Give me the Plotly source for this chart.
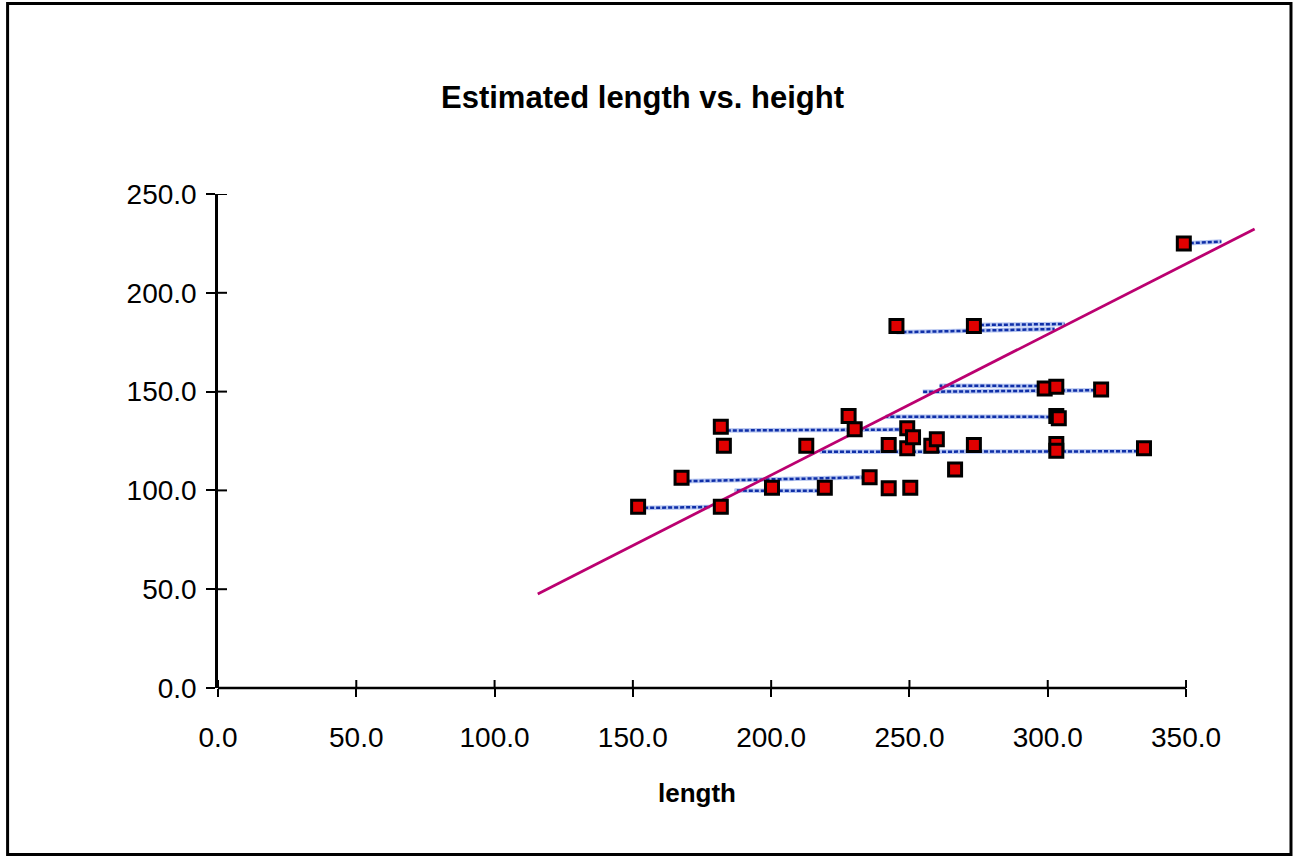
import plotly.graph_objects as go

# ---- data ----
length = [151.9, 181.8, 167.6, 181.8, 182.9, 200.3, 219.4, 212.7, 228.0, 230.2,
          235.6, 242.5, 242.5, 245.3, 273.3, 249.2, 249.2, 251.3, 257.9, 259.9,
          273.3, 266.5, 250.3, 298.9, 303.1, 319.3, 303.1, 304.0, 303.1, 303.1,
          334.8, 349.2]
height = [91.7, 91.7, 106.4, 132.2, 122.6, 101.4, 101.4, 122.6, 137.7, 130.9,
          106.6, 101.1, 123.0, 183.2, 183.2, 131.4, 121.3, 126.9, 122.6, 125.9,
          123.0, 110.6, 101.4, 151.6, 152.4, 151.1, 137.7, 136.5, 123.5, 120.1,
          121.3, 225.0]

# regression line end points
reg_length = [115.6, 374.8]
reg_height = [47.6, 232.3]

# dashed segments: observed point -> estimated length
seg_x0 = [151.9, 219.4, 167.6, 181.8, 303.1, 334.8, 303.1, 319.3, 273.3, 245.3, 349.2]
seg_y0 = [91.1, 99.8, 104.6, 130.3, 137.2, 119.8, 152.8, 150.7, 183.7, 180.0, 225.0]
seg_x1 = [177.8, 186.8, 233.8, 249.2, 241.4, 217.6, 260.9, 254.8, 306.1, 302.5, 362.8]
seg_y1 = [91.6, 99.9, 106.6, 130.8, 137.3, 119.5, 153.0, 149.9, 184.2, 181.7, 225.9]

x_ticks = [0, 50, 100, 150, 200, 250, 300, 350]
y_ticks = [0, 50, 100, 150, 200, 250]

title_text = "Estimated length vs. height"
x_title = "length"

FONT = "Liberation Sans, Arial, sans-serif"

# ---- layout geometry ----
W, H = 1295, 857
ML, MR, MT, MB = 218, 25.5, 194, 169
X_MAX = 380
pw = W - ML - MR
ph = H - MT - MB


def px_to_paper_x(px):
    return (px - ML) / pw


def py_to_paper_y(py):
    return (H - MB - py) / ph


fig = go.Figure()

# dashed segments (light halo + dark dashes)
sx, sy = [], []
for a, b, c, d in zip(seg_x0, seg_y0, seg_x1, seg_y1):
    sx += [a, c, None]
    sy += [b, d, None]
fig.add_trace(go.Scatter(x=sx, y=sy, mode="lines",
                         line=dict(color="#b4c4f0", width=4.5),
                         hoverinfo="skip", showlegend=False))
fig.add_trace(go.Scatter(x=sx, y=sy, mode="lines",
                         line=dict(color="#0f2fa8", width=2.5, dash="4px,2px"),
                         hoverinfo="skip", showlegend=False))

# regression line
fig.add_trace(go.Scatter(x=reg_length, y=reg_height, mode="lines",
                         line=dict(color="#bb0070", width=2.8),
                         showlegend=False))

# points
fig.add_trace(go.Scatter(x=length, y=height, mode="markers",
                         marker=dict(symbol="square", size=13, color="#e00000",
                                     line=dict(color="#000000", width=3)),
                         showlegend=False))

shapes = []
# x axis line (only up to the last tick), in paper coords so it is not clipped
shapes.append(dict(type="line", xref="paper", yref="paper",
                   x0=x_ticks[0] / X_MAX, x1=x_ticks[-1] / X_MAX,
                   y0=0, y1=0, line=dict(color="black", width=2.5)))
# inside half of crossing ticks
for t in x_ticks:
    shapes.append(dict(type="line", xref="x", yref="y", ysizemode="pixel", yanchor=0,
                       x0=t, x1=t, y0=0, y1=8, line=dict(color="black", width=2)))
for t in y_ticks:
    shapes.append(dict(type="line", yref="y", xref="x", xsizemode="pixel", xanchor=0,
                       y0=t, y1=t, x0=0, x1=9, line=dict(color="black", width=2)))
# outer frame
shapes.append(dict(type="rect", xref="paper", yref="paper",
                   x0=px_to_paper_x(7.5), x1=px_to_paper_x(1291.5),
                   y0=py_to_paper_y(854.5), y1=py_to_paper_y(3.5),
                   line=dict(color="black", width=3), fillcolor="rgba(0,0,0,0)",
                   layer="below"))

annotations = [
    dict(text="<b>" + title_text + "</b>", xref="paper", yref="paper",
         x=px_to_paper_x(643), y=py_to_paper_y(98), xanchor="center", yanchor="middle",
         showarrow=False, font=dict(family=FONT, size=31, color="black")),
    dict(text="<b>" + x_title + "</b>", xref="paper", yref="paper",
         x=px_to_paper_x(697), y=py_to_paper_y(793), xanchor="center", yanchor="middle",
         showarrow=False, font=dict(family=FONT, size=26, color="black")),
]

fig.update_layout(
    width=W, height=H,
    margin=dict(l=ML, r=MR, t=MT, b=MB, pad=0),
    paper_bgcolor="white", plot_bgcolor="white",
    font=dict(family=FONT, size=28, color="black"),
    shapes=shapes, annotations=annotations,
    showlegend=False,
    xaxis=dict(range=[0, X_MAX], tickvals=x_ticks, ticktext=[f"{v:.1f}" for v in x_ticks],
               ticks="outside", ticklen=8, tickwidth=2, tickcolor="black",
               showline=False, showgrid=False, zeroline=False,
               ticklabelstandoff=16, tickfont=dict(family=FONT, size=28, color="black")),
    yaxis=dict(range=[0, 250], tickvals=y_ticks, ticktext=[f"{v:.1f}" for v in y_ticks],
               ticks="outside", ticklen=9, tickwidth=2, tickcolor="black",
               showline=True, linecolor="black", linewidth=2.5,
               showgrid=False, zeroline=False,
               ticklabelstandoff=4, tickfont=dict(family=FONT, size=28, color="black")),
)

fig.write_html("out.html", config={"displayModeBar": False},
               post_script="document.body.style.margin='0';document.body.style.overflow='hidden';")
